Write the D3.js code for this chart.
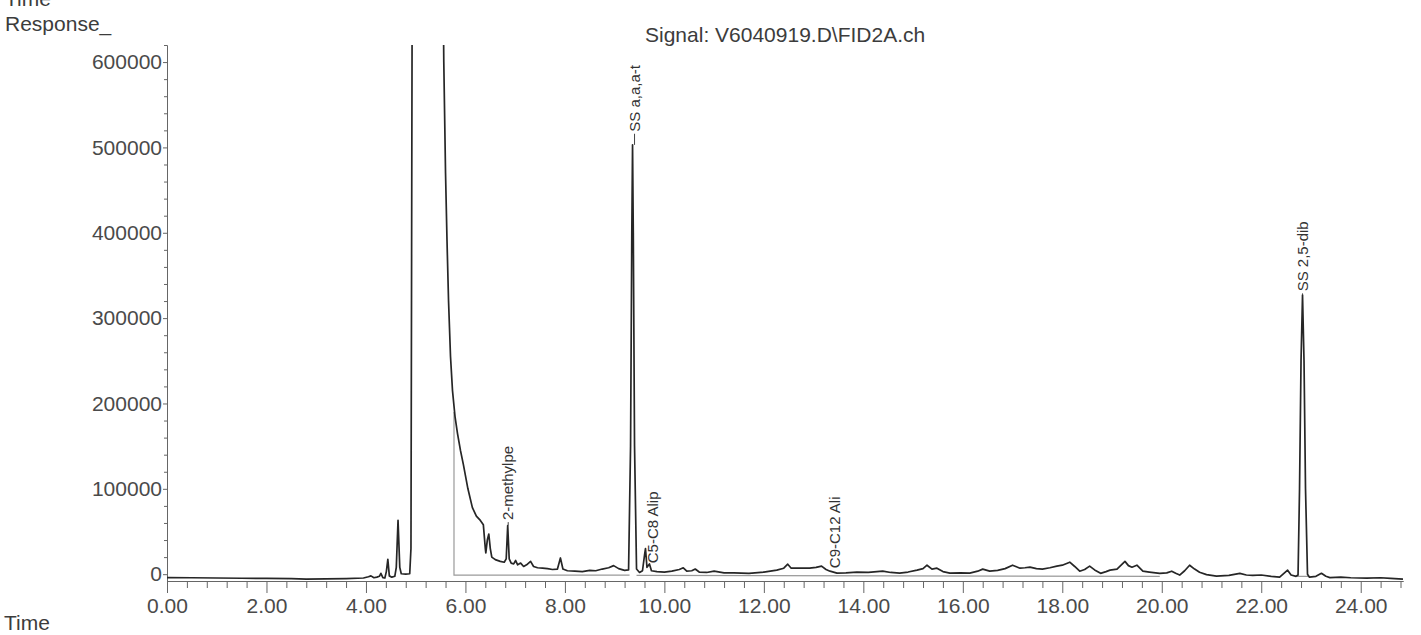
<!DOCTYPE html>
<html>
<head>
<meta charset="utf-8">
<script src="https://cdn.jsdelivr.net/npm/d3@7"></script>
<style>
  body { margin: 0; background: #fff; }
  text { font-family: "Liberation Sans", Arial, sans-serif; fill: #3c3c3c; }
  .axis path, .axis line { stroke: #666; }
  .axis text { font-size: 21px; fill: #4a4a4a; }
</style>
</head>
<body>
<div id="chart"></div>
<script>
// retention time (min), response
var signal = [
  [0.00, -4000], [0.5, -4200], [1.0, -4500], [1.5, -4800], [2.0, -5000], [2.5, -5300],
  [2.8, -5800], [3.2, -5500], [3.6, -5200], [3.95, -4500], [4.05, -3000], [4.10, -2000],
  [4.16, -4200], [4.22, -3500], [4.27, -2500], [4.30, 1000], [4.34, -4000], [4.38, -4500],
  [4.41, 3000], [4.44, 17500], [4.47, -2000], [4.52, -3500], [4.58, -2500], [4.61, 8000],
  [4.645, 63000], [4.68, 8000], [4.71, 500], [4.80, 0], [4.88, 500], [4.905, 30000],
  [4.93, 700000], [5.55, 700000], [5.565, 600000], [5.60, 470000], [5.63, 390000],
  [5.66, 321000], [5.70, 255000], [5.74, 215000], [5.79, 185000], [5.84, 165000],
  [5.90, 145000], [5.96, 128000], [6.05, 100000], [6.14, 78000], [6.22, 68000],
  [6.30, 63000], [6.36, 58000], [6.40, 30000], [6.41, 25000], [6.44, 40000], [6.47, 47000],
  [6.50, 30000], [6.53, 20000], [6.60, 17000], [6.70, 15000], [6.78, 14000], [6.82, 18000],
  [6.85, 57000], [6.88, 18000], [6.92, 13000], [6.97, 12000], [7.01, 16000], [7.05, 11000],
  [7.11, 13000], [7.17, 9000], [7.23, 11000], [7.31, 15000], [7.37, 9000], [7.45, 7500],
  [7.55, 7000], [7.65, 6500], [7.75, 5500], [7.85, 6000], [7.91, 19000], [7.96, 6000],
  [8.05, 4000], [8.20, 3500], [8.35, 3000], [8.50, 4500], [8.62, 4000], [8.75, 6000],
  [8.88, 7500], [8.98, 10000], [9.08, 6500], [9.20, 4500], [9.28, 5000], [9.32, 150000],
  [9.345, 400000], [9.36, 503000], [9.375, 400000], [9.40, 150000], [9.44, 6000],
  [9.50, 2000], [9.56, 4000], [9.60, 22000], [9.62, 30000], [9.65, 8000], [9.70, 12000],
  [9.74, 4000], [9.85, 3000], [10.0, 2500], [10.15, 3500], [10.30, 5500], [10.38, 7500],
  [10.45, 3500], [10.55, 4000], [10.62, 6000], [10.70, 2500], [10.85, 2000], [11.0, 3500],
  [11.2, 1500], [11.4, 1500], [11.7, 1000], [12.0, 2500], [12.26, 4700], [12.40, 7000],
  [12.48, 11700], [12.55, 7000], [12.75, 7000], [12.92, 7000], [13.05, 8000], [13.16, 9400],
  [13.25, 5500], [13.33, 3500], [13.47, 1200], [13.65, 1500], [13.87, 2300], [14.1, 2000],
  [14.39, 3500], [14.55, 2000], [14.73, 1200], [14.9, 2500], [15.08, 4700], [15.20, 6500],
  [15.28, 10500], [15.38, 5900], [15.48, 7000], [15.6, 3000], [15.74, 1200], [15.95, 1500],
  [16.14, 1200], [16.30, 3500], [16.40, 5900], [16.54, 3500], [16.70, 4500], [16.85, 6500],
  [17.0, 10500], [17.15, 7000], [17.25, 7500], [17.35, 8200], [17.48, 6500], [17.6, 5900],
  [17.75, 7500], [17.89, 9400], [18.0, 10500], [18.15, 14000], [18.25, 9000], [18.35, 3500],
  [18.45, 5500], [18.55, 9400], [18.65, 5000], [18.77, 1000], [18.88, 3000], [18.96, 4700],
  [19.10, 6000], [19.26, 15000], [19.33, 10000], [19.40, 8200], [19.50, 10500], [19.62, 3500],
  [19.75, 2500], [19.96, 1000], [20.10, 1500], [20.2, 3500], [20.28, 1000], [20.36, -1000],
  [20.46, 4000], [20.56, 10500], [20.66, 6000], [20.76, 2300], [20.90, -500], [21.1, -2300],
  [21.35, -1500], [21.57, 1000], [21.70, -1000], [21.83, -1500], [22.0, -1000], [22.2, -2500],
  [22.37, -3500], [22.53, 4700], [22.60, -1000], [22.70, -2500], [22.74, -1000],
  [22.77, 100000], [22.80, 250000], [22.83, 327000], [22.86, 250000], [22.89, 100000],
  [22.93, 0], [22.97, -3500], [23.1, -2500], [23.21, 1000], [23.3, -2500], [23.38, -4000],
  [23.6, -3500], [23.8, -4200], [24.12, -4700], [24.4, -4200], [24.6, -5000], [24.85, -5800]
];

// integration baselines (null = break)
var baseline = [
  [5.77, 190000], [5.77, -1200], [9.30, -1200], null,
  [9.44, -1500], [19.96, -2500], null,
  [22.72, -2500], [22.95, -2500]
];

var peakNames = ["2-methylpe", "SS a,a,a-t", "C5-C8 Alip", "C9-C12 Ali", "SS 2,5-dib"];
var peakApex = [57000, 503000, 30000, 9400, 327000];
var labelTime = [6.86, 9.40, 9.77, 13.43, 22.83];
var labelResp = [61000, 516000, 10500, 4700, 329000];

var xTicks = [0, 2, 4, 6, 8, 10, 12, 14, 16, 18, 20, 22, 24];
var yTicks = [0, 100000, 200000, 300000, 400000, 500000, 600000];

var svgWidth = 1421;
var svgHeight = 635;
var margin = { top: 45, right: 18, bottom: 54, left: 167 };
var width = svgWidth - margin.left - margin.right;
var height = svgHeight - margin.top - margin.bottom;

var svg = d3.select("#chart")
  .append("svg")
  .attr("width", svgWidth)
  .attr("height", svgHeight);

var chartGroup = svg.append("g")
  .attr("transform", `translate(${margin.left}, ${margin.top})`);

var xScale = d3.scaleLinear().domain([0, 24.85]).range([0, width]);
var yScale = d3.scaleLinear().domain([-8000, 620000]).range([height, 0]);

// minor ticks
var xMinor = d3.range(0, 24.85, 0.4).filter(d => Math.abs(d / 2 - Math.round(d / 2)) > 0.01);
var yMinor = d3.range(0, 620001, 20000).filter(d => d % 100000 !== 0);

chartGroup.append("g")
  .attr("class", "axis")
  .attr("transform", `translate(0, ${height})`)
  .call(d3.axisBottom(xScale).tickValues(xMinor).tickSize(7).tickFormat("").tickSizeOuter(0));

chartGroup.append("g")
  .attr("class", "axis")
  .attr("transform", `translate(0, ${height})`)
  .call(d3.axisBottom(xScale).tickValues(xTicks).tickSize(12).tickPadding(5)
    .tickFormat(d3.format(".2f")).tickSizeOuter(0));

chartGroup.append("g")
  .attr("class", "axis")
  .call(d3.axisLeft(yScale).tickValues(yMinor).tickSize(3).tickFormat("").tickSizeOuter(0));

chartGroup.append("g")
  .attr("class", "axis")
  .call(d3.axisLeft(yScale).tickValues(yTicks).tickSize(4).tickPadding(1)
    .tickFormat(d3.format("d")).tickSizeOuter(0));

chartGroup.append("clipPath")
  .attr("id", "plotclip")
  .append("rect")
  .attr("x", 0).attr("y", 0)
  .attr("width", width).attr("height", height);

var line = d3.line()
  .defined(d => d !== null)
  .x(d => xScale(d[0]))
  .y(d => yScale(d[1]));

chartGroup.append("path")
  .datum(baseline)
  .attr("clip-path", "url(#plotclip)")
  .attr("fill", "none")
  .attr("stroke", "#9a9a9a")
  .attr("stroke-width", 1.2)
  .attr("d", line);

chartGroup.append("path")
  .datum(signal)
  .attr("clip-path", "url(#plotclip)")
  .attr("fill", "none")
  .attr("stroke", "#262626")
  .attr("stroke-width", 1.7)
  .attr("stroke-linejoin", "round")
  .attr("d", line);

// peak labels
peakNames.forEach(function(name, i) {
  var lx = xScale(labelTime[i]);
  var ly = yScale(labelResp[i]);
  if (labelResp[i] > peakApex[i]) {
    chartGroup.append("line")
      .attr("x1", lx).attr("x2", lx)
      .attr("y1", yScale(peakApex[i])).attr("y2", ly)
      .attr("stroke", "#444").attr("stroke-width", 1);
  }
  chartGroup.append("text")
    .attr("transform", `translate(${lx}, ${ly}) rotate(-90)`)
    .attr("dy", "0.35em")
    .attr("x", 2)
    .style("font-size", "15px")
    .style("fill", "#333")
    .text(name);
});

// titles
svg.append("text").attr("x", 5).attr("y", 6).style("font-size", "21px").text("Time");
svg.append("text").attr("x", 5).attr("y", 31).style("font-size", "21px").text("Response_");
svg.append("text").attr("x", 645).attr("y", 42).style("font-size", "21px")
  .text("Signal: V6040919.D\\FID2A.ch");
svg.append("text").attr("x", 4).attr("y", 630).style("font-size", "21px").text("Time");
</script>
</body>
</html>
